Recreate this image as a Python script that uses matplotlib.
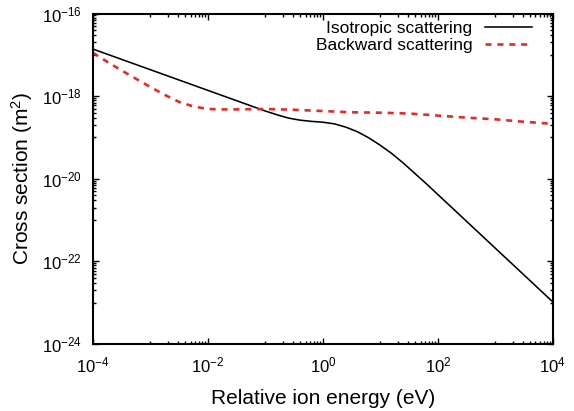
import numpy as np
import matplotlib
matplotlib.use('Agg')
import matplotlib.pyplot as plt
from matplotlib.ticker import FixedLocator, FixedFormatter

plt.rcParams['font.family'] = ['Liberation Sans', 'DejaVu Sans']
plt.rcParams['mathtext.fontset'] = 'custom'
plt.rcParams['mathtext.rm'] = 'Liberation Sans'
plt.rcParams['mathtext.default'] = 'regular'

# log10 of energy (eV) and cross section (m^2)
iso_log_e = [-4, -3, -2, -1.5, -1.2, -1.0, -0.8, -0.6, -0.4, -0.2, 0.0, 0.2,
             0.4, 0.6, 0.8, 1.0, 1.2, 1.4, 1.6, 1.8, 2.0, 2.5, 3.0, 3.5, 4.0]
iso_log_s = [-16.86, -17.36, -17.86, -18.11, -18.26, -18.36, -18.45, -18.53,
             -18.58, -18.61, -18.63, -18.67, -18.75, -18.86, -19.01, -19.19,
             -19.39, -19.62, -19.87, -20.12, -20.38, -21.03, -21.68, -22.33,
             -22.98]

back_log_e = [-4, -3.75, -3.5, -3.25, -3, -2.75, -2.5, -2.25, -2, -1.75, -1.5,
              -1, -0.5, 0, 0.5, 1, 1.5, 2, 2.5, 3, 3.5, 4]
back_log_s = [-16.95, -17.17, -17.38, -17.58, -17.78, -17.97, -18.14, -18.25,
              -18.31, -18.32, -18.32, -18.31, -18.33, -18.36, -18.39, -18.40,
              -18.42, -18.47, -18.52, -18.56, -18.62, -18.67]

x_major = [-4, -2, 0, 2, 4]
y_major = [-24, -22, -20, -18, -16]


def minor_ticks(majors):
    # gnuplot style: linear subdivision of each two-decade interval
    out = []
    for lo in majors[:-1]:
        out += [k * 10.0 ** (lo + 1) for k in range(1, 10)]
    return out


fig = plt.figure(figsize=(5.74, 4.11), dpi=100)
ax = fig.add_axes([0.162, 0.163, 0.801, 0.804])

ax.plot(10.0 ** np.array(iso_log_e), 10.0 ** np.array(iso_log_s),
        color='black', lw=1.15, label='Isotropic scattering')
line, = ax.plot(10.0 ** np.array(back_log_e), 10.0 ** np.array(back_log_s),
                color='#e52b24', lw=1.9, label='Backward scattering')
line.set_dashes([2.3, 2.2])

ax.set_xscale('log')
ax.set_yscale('log')
ax.set_xlim(1e-4, 1e4)
ax.set_ylim(1e-24, 1e-16)

ax.xaxis.set_major_locator(FixedLocator([10.0 ** e for e in x_major]))
ax.xaxis.set_major_formatter(FixedFormatter(['$10^{%d}$' % e for e in x_major]))
ax.yaxis.set_major_locator(FixedLocator([10.0 ** e for e in y_major]))
ax.yaxis.set_major_formatter(FixedFormatter(['$10^{%d}$' % e for e in y_major]))
ax.xaxis.set_minor_locator(FixedLocator(minor_ticks(x_major)))
ax.yaxis.set_minor_locator(FixedLocator(minor_ticks(y_major)))
ax.xaxis.set_minor_formatter(FixedFormatter([]))
ax.yaxis.set_minor_formatter(FixedFormatter([]))

ax.tick_params(which='both', direction='in', top=True, right=True, width=1)
ax.tick_params(which='major', length=4.5, labelsize=12, pad=8)
ax.tick_params(which='minor', length=2.3)
for s in ax.spines.values():
    s.set_linewidth(1.5)

ax.set_xlabel('Relative ion energy (eV)', fontsize=15, labelpad=10)
ax.set_ylabel('Cross section (m$^2$)', fontsize=15, labelpad=5)

ax.legend(loc='upper right', frameon=False, markerfirst=False, fontsize=12.5,
          handlelength=2.7, handletextpad=0.7, labelspacing=0.13,
          borderpad=0, borderaxespad=0, bbox_to_anchor=(0.954, 0.978))

fig.savefig('out.png', dpi=100)
